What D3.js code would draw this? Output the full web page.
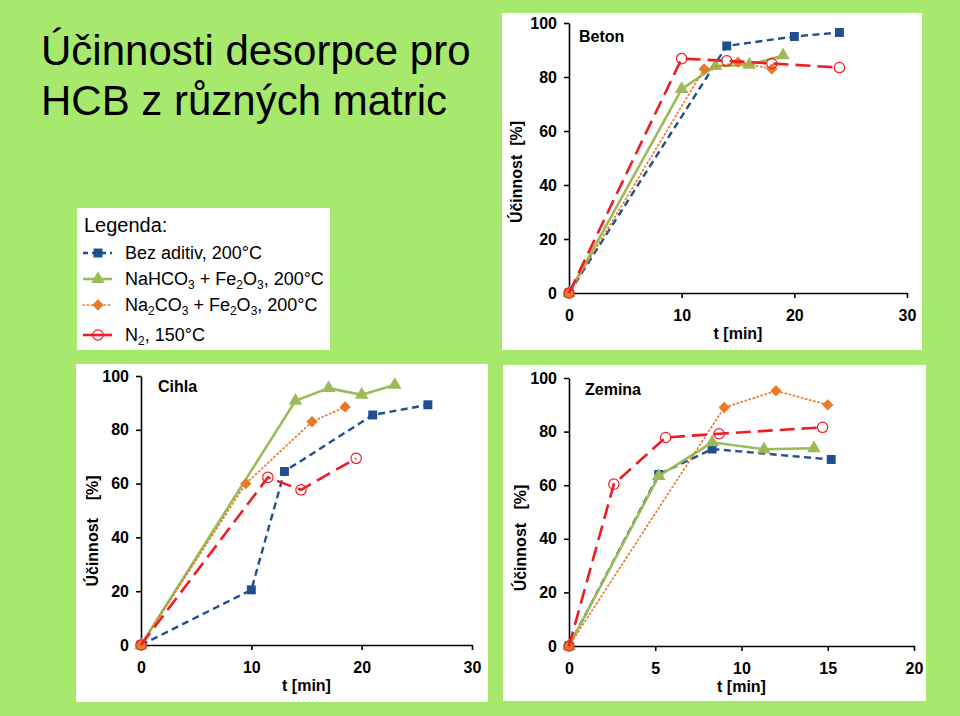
<!DOCTYPE html>
<html>
<head>
<meta charset="utf-8">
<script src="https://cdn.jsdelivr.net/npm/d3@7"></script>
<style>
  html, body { margin: 0; padding: 0; background: #a6e96c; }
  svg { display: block; }
  text { font-family: "Liberation Sans", Arial, sans-serif; }
</style>
</head>
<body>
<svg id="chart" width="960" height="716"></svg>
<script>
// ---------------- DATA ----------------
const titleLines = ["Účinnosti desorpce pro", "HCB z různých matric"];
const legendTitle = "Legenda:";
const seriesKeys = ["bez", "nahco3", "na2co3", "n2"];
const yTicks = [0, 20, 40, 60, 80, 100];
const xTicksBeton = [0, 10, 20, 30];
const xTicksCihla = [0, 10, 20, 30];
const xTicksZemina = [0, 5, 10, 15, 20];
const panelNames = ["Beton", "Cihla", "Zemina"];
const xAxisTitle = "t [min]";

// Beton  [t (min), Účinnost (%)]
const betonBez    = [[0, 0], [14, 91.5], [20, 95], [24, 96.5]];
const betonNaHCO3 = [[0, 0], [10, 75.5], [13, 84], [16, 84.5], [19, 88]];
const betonNa2CO3 = [[0, 0], [12, 83], [15, 85.5], [18, 83]];
const betonN2     = [[0, 0], [10, 86.8], [14, 86], [18, 85], [24, 83.5]];

// Cihla
const cihlaBez    = [[0, 0], [10, 20.5], [13, 64.5], [21, 85.5], [26, 89.3]];
const cihlaNaHCO3 = [[0, 0], [14, 90.8], [17, 95.5], [20, 93], [23, 96.7]];
const cihlaNa2CO3 = [[0, 0], [9.5, 60], [15.5, 83], [18.5, 88.5]];
const cihlaN2     = [[0, 0], [11.5, 62.3], [14.5, 57.7], [19.5, 69.4]];

// Zemina
const zeminaBez    = [[0, 0], [5.2, 64], [8.3, 73.5], [15.2, 69.6]];
const zeminaNaHCO3 = [[0, 0], [5.2, 63.4], [8.3, 76], [11.3, 73.4], [14.2, 73.8]];
const zeminaNa2CO3 = [[0, 0], [9, 89], [12, 95.2], [15, 90]];
const zeminaN2     = [[0, 0], [2.6, 60.4], [5.6, 77.8], [8.7, 79.2], [14.7, 81.6]];

// ---------------- STYLE ----------------
const styles = {
  bez:    { color: "#1f4f8f", width: 2.4, dash: "7,4.5", marker: "square" },
  nahco3: { color: "#9bbb59", width: 2.6, dash: null,    marker: "triangle" },
  na2co3: { color: "#e8792a", width: 1.7, dash: "1.2,3", marker: "diamond" },
  n2:     { color: "#ee1c25", width: 2.6, dash: "15,7",  marker: "circle" }
};

const svg = d3.select("#chart");
const font = '"Liberation Sans", Arial, sans-serif';

// Title
svg.append("g").selectAll("text").data(titleLines).join("text")
  .attr("x", 41).attr("y", (d, i) => 65 + i * 50)
  .attr("font-size", 42).attr("fill", "#000")
  .text(d => d);

function drawMarker(g, type, x, y, color) {
  const size = { square: 80, triangle: 80, diamond: 64, circle: 85 }[type];
  const symType = { square: d3.symbolSquare, triangle: d3.symbolTriangle,
                    diamond: d3.symbolSquare, circle: d3.symbolCircle }[type];
  const p = g.append("path")
    .attr("d", d3.symbol().type(symType).size(size)())
    .attr("transform", `translate(${x},${y})`);
  if (type === "circle") {
    p.attr("fill", "none").attr("stroke", color).attr("stroke-width", 1.2);
  } else if (type === "diamond") {
    p.attr("fill", color).attr("transform", `translate(${x},${y}) rotate(45)`);
  } else {
    p.attr("fill", color);
  }
}

const panels = [
  { name: panelNames[0], box: [502, 13, 420, 337], plot: [569, 907, 23, 293], xMax: 30, xTicks: xTicksBeton,
    yTitle: "Účinnost  [%]", yTitlePos: [522, 172], labelPos: [579, 42],
    data: { bez: betonBez, nahco3: betonNaHCO3, na2co3: betonNa2CO3, n2: betonN2 } },
  { name: panelNames[1], box: [76, 364, 412, 338], plot: [141, 472, 376, 645], xMax: 30, xTicks: xTicksCihla,
    yTitle: "Účinnost    [%]", yTitlePos: [98, 531], labelPos: [158, 392],
    data: { bez: cihlaBez, nahco3: cihlaNaHCO3, na2co3: cihlaNa2CO3, n2: cihlaN2 } },
  { name: panelNames[2], box: [503, 365, 423, 336], plot: [569, 914, 378, 646], xMax: 20, xTicks: xTicksZemina,
    yTitle: "Účinnost   [%]", yTitlePos: [526, 538], labelPos: [585, 395],
    data: { bez: zeminaBez, nahco3: zeminaNaHCO3, na2co3: zeminaNa2CO3, n2: zeminaN2 } }
];

panels.forEach(p => {
  const g = svg.append("g");
  g.append("rect").attr("x", p.box[0]).attr("y", p.box[1])
    .attr("width", p.box[2]).attr("height", p.box[3]).attr("fill", "#fff");

  const x = d3.scaleLinear().domain([0, p.xMax]).range([p.plot[0], p.plot[1]]);
  const y = d3.scaleLinear().domain([0, 100]).range([p.plot[3], p.plot[2]]);

  const yAx = g.append("g").attr("transform", `translate(${p.plot[0]},0)`)
    .call(d3.axisLeft(y).tickValues(yTicks).tickSize(5).tickSizeOuter(0).tickPadding(7));
  const xAx = g.append("g").attr("transform", `translate(0,${p.plot[3]})`)
    .call(d3.axisBottom(x).tickValues(p.xTicks).tickSize(5).tickSizeOuter(0).tickPadding(12));
  [yAx, xAx].forEach(a => {
    a.select(".domain").attr("stroke", "#000").attr("stroke-width", 1.6);
    a.selectAll(".tick line").attr("stroke", "#000").attr("stroke-width", 1.6);
    a.selectAll(".tick text").attr("font-family", font).attr("font-size", 16)
      .attr("font-weight", "bold").attr("fill", "#000");
  });

  g.append("text").attr("x", (p.plot[0] + p.plot[1]) / 2).attr("y", p.plot[3] + 46)
    .attr("text-anchor", "middle").attr("font-size", 16).attr("font-weight", "bold")
    .text(xAxisTitle);
  g.append("text")
    .attr("transform", `translate(${p.yTitlePos[0]},${p.yTitlePos[1]}) rotate(-90)`)
    .attr("text-anchor", "middle").attr("font-size", 16).attr("font-weight", "bold")
    .style("white-space", "pre")
    .text(p.yTitle);
  g.append("text").attr("x", p.labelPos[0]).attr("y", p.labelPos[1])
    .attr("font-size", 16).attr("font-weight", "bold").text(p.name);

  const line = d3.line().x(d => x(d[0])).y(d => y(d[1]));
  seriesKeys.forEach(k => {
    const s = styles[k];
    const data = p.data[k];
    g.append("path").datum(data).attr("d", line)
      .attr("fill", "none").attr("stroke", s.color).attr("stroke-width", s.width)
      .attr("stroke-dasharray", s.dash).attr("stroke-linecap", k === "na2co3" ? "round" : "butt");
    data.forEach(d => drawMarker(g, s.marker, x(d[0]), y(d[1]), s.color));
  });
});

// Legend
const lg = svg.append("g");
lg.append("rect").attr("x", 77).attr("y", 208).attr("width", 253).attr("height", 142).attr("fill", "#fff");
lg.append("text").attr("x", 84).attr("y", 232).attr("font-size", 20).text(legendTitle);
const legendRows = [
  { key: "bez",    parts: [["Bez aditiv, 200°C", false]] },
  { key: "nahco3", parts: [["NaHCO", false], ["3", true], [" + Fe", false], ["2", true], ["O", false], ["3", true], [", 200°C", false]] },
  { key: "na2co3", parts: [["Na", false], ["2", true], ["CO", false], ["3", true], [" + Fe", false], ["2", true], ["O", false], ["3", true], [", 200°C", false]] },
  { key: "n2",     parts: [["N", false], ["2", true], [", 150°C", false]] }
];
const rowBase = [259, 285, 311, 341];
legendRows.forEach((r, i) => {
  const s = styles[r.key];
  const cy = rowBase[i] - 6;
  lg.append("line").attr("x1", 83).attr("x2", 112).attr("y1", cy).attr("y2", cy)
    .attr("stroke", s.color).attr("stroke-width", s.width)
    .attr("stroke-dasharray", r.key === "bez" ? "5,4" : r.key === "na2co3" ? "1.2,3" : null)
    .attr("stroke-linecap", r.key === "na2co3" ? "round" : "butt");
  drawMarker(lg, s.marker, 98, cy, s.color);
  const t = lg.append("text").attr("x", 125).attr("y", rowBase[i]).attr("font-size", 18);
  r.parts.forEach(([txt, sub], j) => {
    const prev = j > 0 ? r.parts[j - 1][1] : false;
    const ts = t.append("tspan").text(txt)
      .attr("dy", sub && !prev ? 4 : (!sub && prev ? -4 : 0));
    if (sub) ts.attr("font-size", 12);
  });
});
</script>
</body>
</html>
